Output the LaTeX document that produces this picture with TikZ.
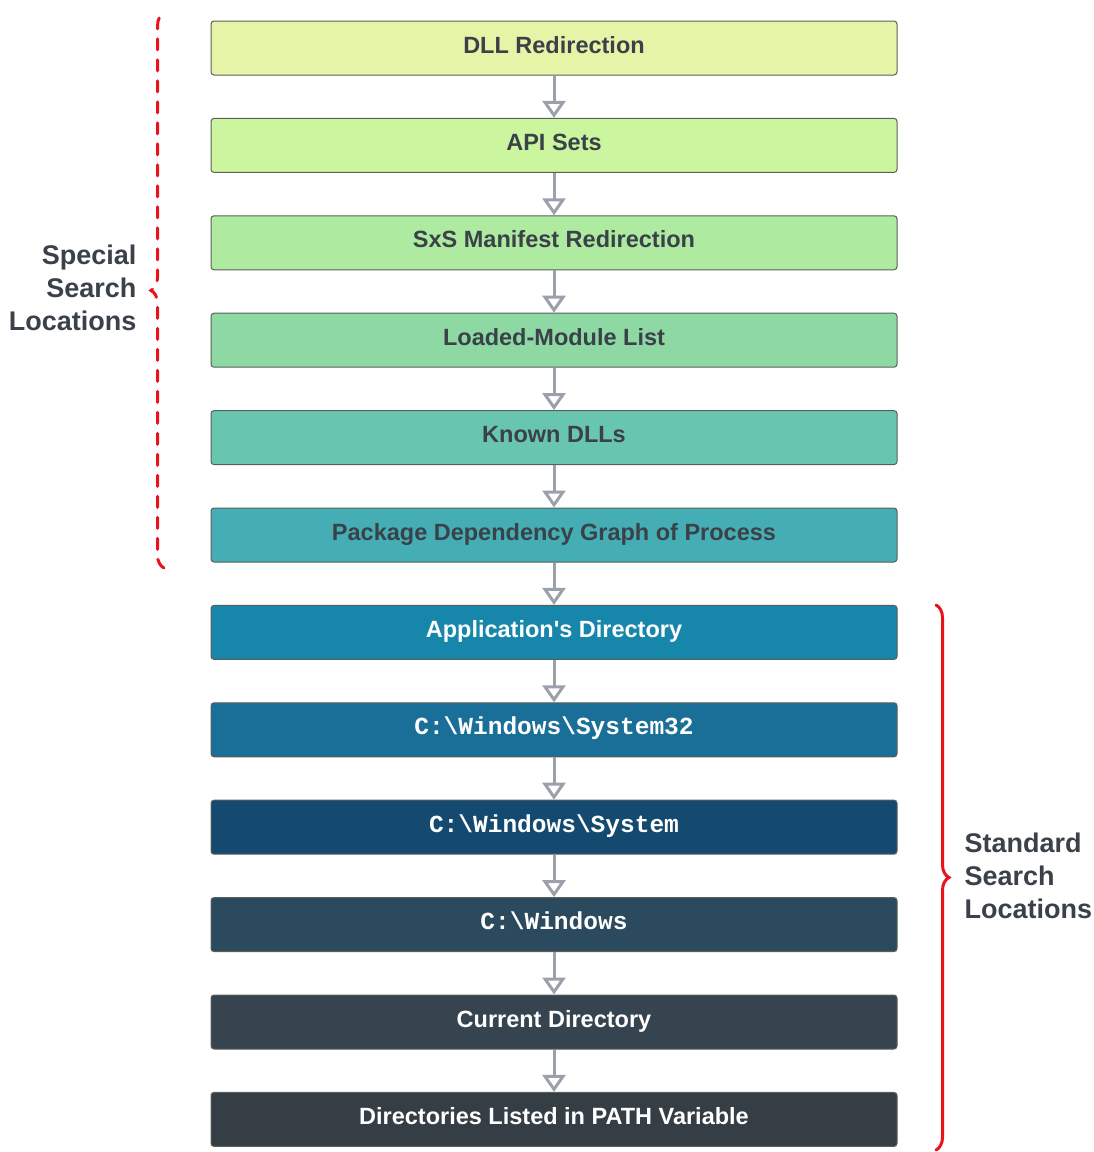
\documentclass[tikz,border=0pt]{standalone}
\usepackage{fontspec}
\setmainfont{Liberation Sans}
\setmonofont{Liberation Mono}
\usetikzlibrary{arrows.meta,positioning,decorations.pathreplacing}

\definecolor{stepA}{HTML}{E6F4A8}
\definecolor{stepB}{HTML}{CCF59F}
\definecolor{stepC}{HTML}{AEEAA0}
\definecolor{stepD}{HTML}{8ED8A3}
\definecolor{stepE}{HTML}{68C6AE}
\definecolor{stepF}{HTML}{44AEB4}
\definecolor{stepG}{HTML}{1686AA}
\definecolor{stepH}{HTML}{1A6F99}
\definecolor{stepI}{HTML}{154A70}
\definecolor{stepJ}{HTML}{2B4A5E}
\definecolor{stepK}{HTML}{36444F}
\definecolor{stepL}{HTML}{363E45}
\definecolor{inktext}{HTML}{3A4149}
\definecolor{boxedge}{HTML}{5A5F5A}
\definecolor{flowgray}{HTML}{9AA0AC}
\definecolor{bracered}{HTML}{E8141B}

\tikzset{
    stage/.style={rectangle, rounded corners=3pt, draw=boxedge, line width=1pt,
        minimum width=686pt, minimum height=54pt, text=inktext,
        text height=18pt, text depth=8pt,
        font=\fontsize{23.5}{27}\selectfont\bfseries},
    darkstage/.style={stage, text=white},
    pathname/.style={font=\fontsize{24.5}{27}\selectfont\ttfamily\bfseries},
    flow/.style={draw=flowgray, line width=3pt,
        -{Triangle[open, length=17pt, width=23pt, line width=3pt]}},
    grouplabel/.style={text=inktext, font=\fontsize{27}{33}\selectfont\bfseries},
    bracket/.style={draw=bracered, line width=3pt, line cap=round,
        decorate, decoration={brace, amplitude=13pt}}
}

\begin{document}
\begin{tikzpicture}[x=1pt, y=-1pt]
    \useasboundingbox (0,0) rectangle (1094,1152);

    % Special search locations
    \node[stage, fill=stepA] (redirect) at (554,48) {DLL Redirection};
    \node[stage, fill=stepB] (apisets) at (554,145.4) {API Sets};
    \node[stage, fill=stepC] (sxs) at (554,242.8) {SxS Manifest Redirection};
    \node[stage, fill=stepD] (loaded) at (554,340.2) {Loaded-Module List};
    \node[stage, fill=stepE] (known) at (554,437.6) {Known DLLs};
    \node[stage, fill=stepF] (package) at (554,535) {Package Dependency Graph of Process};

    % Standard search locations
    \node[darkstage, fill=stepG] (appdir) at (554,632.4) {Application\textquotesingle s Directory};
    \node[darkstage, pathname, fill=stepH] (sys32) at (554,729.8) {C:\textbackslash Windows\textbackslash System32};
    \node[darkstage, pathname, fill=stepI] (sys16) at (554,827.2) {C:\textbackslash Windows\textbackslash System};
    \node[darkstage, pathname, fill=stepJ] (windir) at (554,924.6) {C:\textbackslash Windows};
    \node[darkstage, fill=stepK] (curdir) at (554,1022) {Current Directory};
    \node[darkstage, fill=stepL] (pathvar) at (554,1119.4) {Directories Listed in PATH Variable};

    % Search order
    \draw[flow] (redirect) -- (apisets);
    \draw[flow] (apisets) -- (sxs);
    \draw[flow] (sxs) -- (loaded);
    \draw[flow] (loaded) -- (known);
    \draw[flow] (known) -- (package);
    \draw[flow] (package) -- (appdir);
    \draw[flow] (appdir) -- (sys32);
    \draw[flow] (sys32) -- (sys16);
    \draw[flow] (sys16) -- (windir);
    \draw[flow] (windir) -- (curdir);
    \draw[flow] (curdir) -- (pathvar);

    % Group braces
    \coordinate (specialbot) at (164,568);
    \coordinate (specialtop) at (164,13);
    \coordinate (standardtop) at (936,605);
    \coordinate (standardbot) at (936,1150);
    \draw[bracket, dash pattern=on 11pt off 10pt] (specialbot) -- (specialtop);
    \draw[bracket] (standardtop) -- (standardbot);

    \node[grouplabel, align=right, anchor=east] (speciallbl) at (140,288) {Special\\Search\\Locations};
    \node[grouplabel, align=left, anchor=west] (standardlbl) at (961,876) {Standard\\Search\\Locations};

\end{tikzpicture}
\end{document}
